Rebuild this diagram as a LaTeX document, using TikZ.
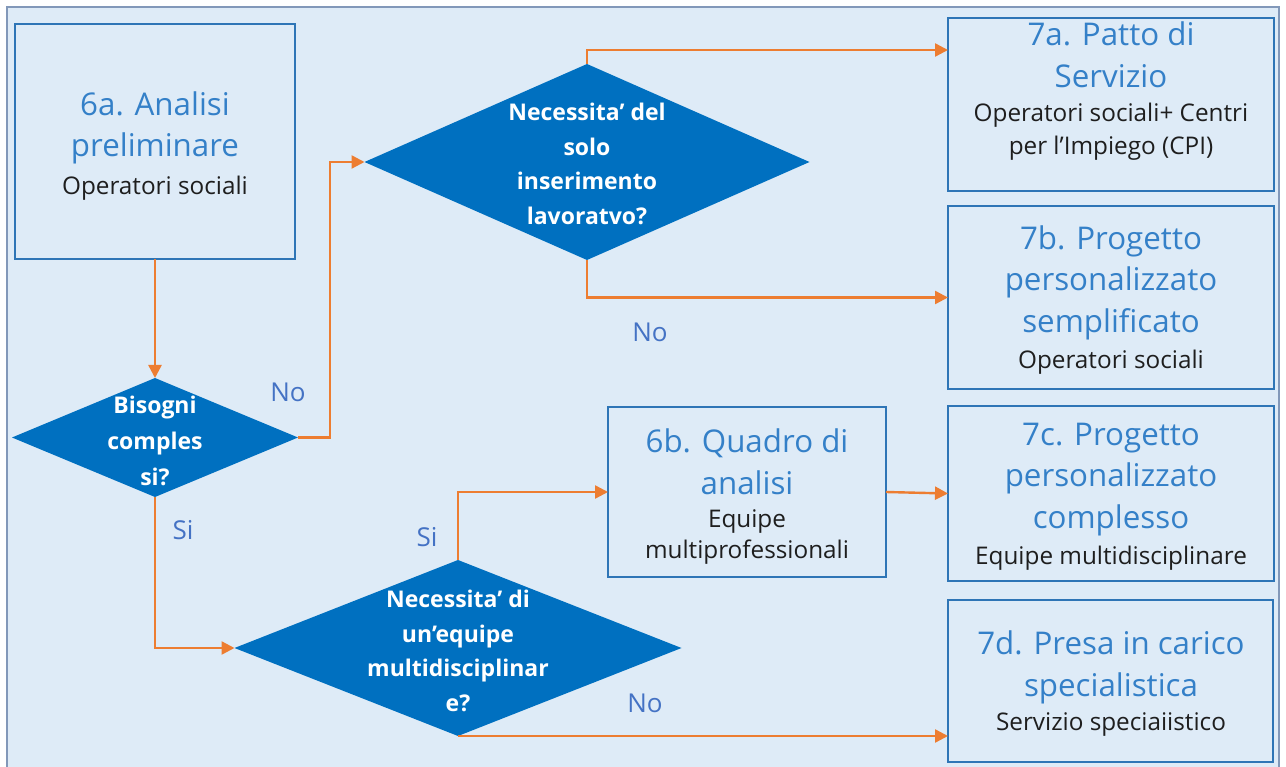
\documentclass[tikz,border=0pt]{standalone}
\usepackage{fontspec}
\setmainfont{Open Sans}
\usetikzlibrary{shapes.geometric,arrows.meta}
\definecolor{bgfill}{HTML}{DEEBF7}
\definecolor{bgedge}{RGB}{130,152,185}
\definecolor{boxblue}{HTML}{2E75B6}
\definecolor{decblue}{HTML}{0070C0}
\definecolor{titleblue}{RGB}{52,128,200}
\definecolor{subgray}{RGB}{30,30,30}
\definecolor{lblblue}{RGB}{68,114,196}
\definecolor{arrorange}{HTML}{ED7D31}
\begin{document}
\begin{tikzpicture}[x=1pt,y=-1pt,
  box/.style={rectangle, draw=boxblue, line width=2pt, fill=bgfill, inner sep=0pt, outer sep=0pt},
  dec/.style={diamond, fill=decblue, inner sep=0pt, outer sep=0pt},
  ttl/.style={text=titleblue, font=\fontsize{31.3}{41.5}\selectfont, align=center, inner sep=0pt},
  sub/.style={text=subgray, font=\fontsize{24.3}{33}\selectfont, align=center, inner sep=0pt},
  dtxt/.style={text=white, font=\fontsize{23}{34.5}\selectfont\bfseries, align=center, inner sep=0pt},
  lbl/.style={text=lblblue, font=\fontsize{26}{30}\selectfont, inner sep=0pt},
  arr/.style={draw=arrorange, line width=2.4pt, -{Triangle[length=13pt,width=13pt]}}
]
\useasboundingbox (0,0) rectangle (1286,767);
\fill[white] (0,0) rectangle (1286,767);
\draw[bgedge, fill=bgfill, line width=1.2pt] (7,7) rectangle (1279,790);

% boxes
\node[box, minimum width=280pt, minimum height=235pt] (b6a) at (155,141.5) {};
\node[box, minimum width=326pt, minimum height=173pt] (b7a) at (1111,104.5) {};
\node[box, minimum width=326pt, minimum height=183pt] (b7b) at (1111,297.5) {};
\node[box, minimum width=326pt, minimum height=175pt] (b7c) at (1111,493.5) {};
\node[box, minimum width=325pt, minimum height=162pt] (b7d) at (1110.5,681) {};
\node[box, minimum width=278pt, minimum height=170pt] (b6b) at (747,492) {};

% diamonds
\node[dec, minimum width=445pt, minimum height=196pt] (d1) at (587,162) {};
\node[dec, minimum width=286pt, minimum height=119pt] (bis) at (155,437.5) {};
\node[dec, minimum width=447pt, minimum height=176pt] (d2) at (458,648) {};

% box texts
\node[ttl] (t6a) at (155,128) {6a. Analisi\\preliminare};
\node[sub] (s6a) at (155,188) {Operatori sociali};
\node[ttl] (t7a) at (1111,55) {7a. Patto di\\Servizio};
\node[sub] (s7a) at (1111,131.5) {Operatori sociali+ Centri\\per l’Impiego (CPI)};
\node[ttl] (t7b) at (1111,282.5) {7b. Progetto\\personalizzato\\semplificato};
\node[sub] (s7b) at (1111,362) {Operatori sociali};
\node[ttl] (t7c) at (1111,479.5) {7c. Progetto\\personalizzato\\complesso};
\node[sub] (s7c) at (1111,558) {Equipe multidisciplinare};
\node[ttl] (t7d) at (1111,667.5) {7d. Presa in carico\\specialistica};
\node[sub] (s7d) at (1111,724) {Servizio speciaiistico};
\node[ttl] (t6b) at (747,462) {6b. Quadro di\\analisi};
\node[sub, font=\fontsize{24.3}{31}\selectfont] (s6b) at (747,537.5) {Equipe\\multiprofessionali};

% diamond texts
\node[dtxt] (td1) at (587,164) {Necessita’ del\\solo\\inserimento\\lavoratvo?};
\node[dtxt, font=\fontsize{23}{36}\selectfont\bfseries] (tbis) at (155,441) {Bisogni\\comples\\si?};
\node[dtxt] (td2) at (458,651) {Necessita’ di\\un’equipe\\multidisciplinar\\e?};

% labels
\node[lbl] (lno1) at (288,392) {No};
\node[lbl] (lno2) at (650,332) {No};
\node[lbl] (lsi1) at (183,530) {Si};
\node[lbl] (lsi2) at (427,537) {Si};
\node[lbl] (lno3) at (645,703) {No};

% connectors
\coordinate (k1) at (330,437.5);
\coordinate (k2) at (587,50);
\draw[arr] (b6a.south) -- (bis.north);
\draw[arr] (bis.east) -- (k1) |- (d1.west);
\draw[arr] (d1.north) -- (k2) -- (k2 -| b7a.west);
\draw[arr] (d1.south) |- (b7b.west);
\draw[arr] (bis.south) |- (d2.west);
\draw[arr] (d2.north) |- (b6b.west);
\draw[arr] (b6b.east) -- (b7c.west);
\draw[arr] (d2.south) -- (d2.south -| b7d.west);
\end{tikzpicture}
\end{document}
